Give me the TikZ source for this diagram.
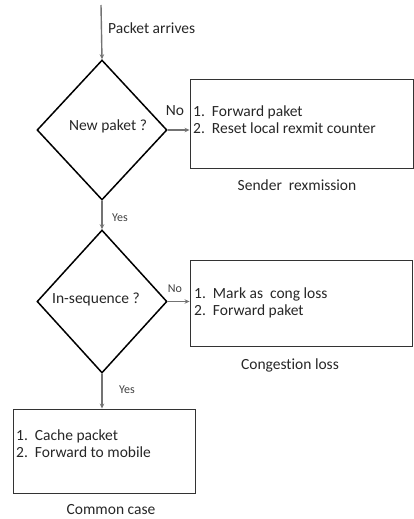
\documentclass[tikz,border=0pt]{standalone}
\usepackage{fontspec}
\setmainfont[Ligatures=NoCommon]{Carlito}
\usetikzlibrary{shapes.geometric,arrows.meta}
\begin{document}
\begin{tikzpicture}[x=1pt,y=-1pt,
  conn/.style={draw=black!55,line width=1.4pt,-{Stealth[length=5pt,width=4.5pt]}},
  dec/.style={draw=black,line width=1.5pt,diamond,minimum width=130pt,inner sep=0pt},
  box/.style={draw=black!80,line width=0.9pt,rectangle,inner sep=0pt},
  txt/.style={font=\fontsize{15.5}{17}\selectfont,text=black!85,inner sep=0pt},
  lst/.style={txt,anchor=west,align=left},
  small/.style={font=\fontsize{12}{14}\selectfont,text=black!75,inner sep=0pt}]
\useasboundingbox (0,0) rectangle (414,519);
% decisions
\coordinate (start) at (101,5);
\node[dec,minimum height=140pt] (d1) at (102,130) {};
\node[txt] (q1) at (108,126) {New paket ?};
\node[dec,minimum height=143pt] (d2) at (102,301.5) {};
\node[txt] (q2) at (96,299) {In-sequence ?};
% boxes
\node[box,minimum width=223pt,minimum height=89pt] (b1) at (301.5,123.5) {};
\node[lst] (l1) at (193,122) {\begin{tabular}{@{}l@{\hspace{7pt}}l@{}}1. & Forward paket\\2. & Reset local rexmit counter\end{tabular}};
\node[txt] (c1) at (297,185) {Sender\ \ rexmission};
\node[box,minimum width=222pt,minimum height=86pt] (b2) at (301,303) {};
\node[lst] (l2) at (194,304) {\begin{tabular}{@{}l@{\hspace{7pt}}l@{}}1. & Mark as\ \ cong loss\\2. & Forward paket\end{tabular}};
\node[txt] (c2) at (290,365) {Congestion loss};
\node[box,minimum width=182pt,minimum height=84pt] (b3) at (104,451) {};
\node[lst] (l3) at (16,446) {\begin{tabular}{@{}l@{\hspace{7pt}}l@{}}1. & Cache packet\\2. & Forward to mobile\end{tabular}};
\node[txt] (c3) at (111,510) {Common case};
% labels
\node[txt,anchor=west] (pa) at (108,28) {Packet arrives};
\node[txt] (no1) at (175,111) {No};
\node[small] (no2) at (175,289) {No};
\node[small] (yes1) at (120,218) {Yes};
\node[small] (yes2) at (127,390) {Yes};
% connectors
\draw[conn] (start) -- (d1.north);
\draw[conn] (d1.east) -- (d1.east -| b1.west);
\draw[conn] (d1.south) -- (d2.north);
\draw[conn] (d2.east) -- (d2.east -| b2.west);
\draw[conn] (d2.south) -- (d2.south |- b3.north);
\end{tikzpicture}
\end{document}
